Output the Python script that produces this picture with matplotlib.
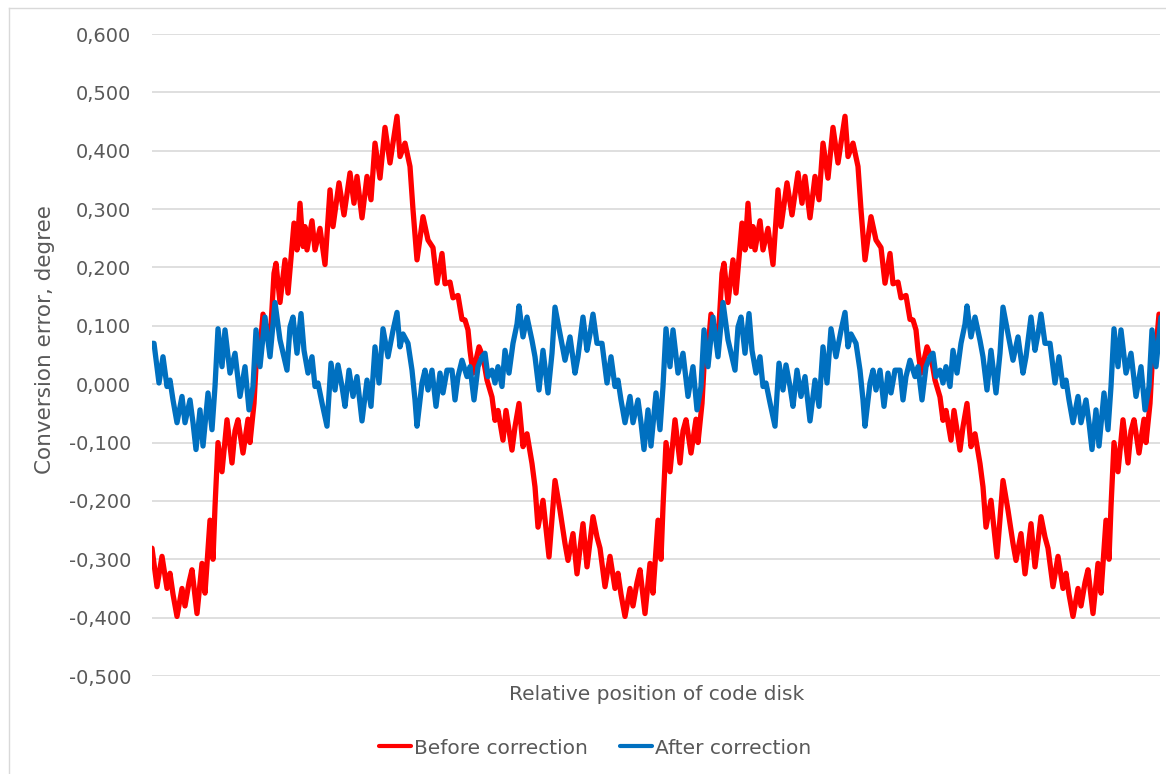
import matplotlib
matplotlib.use("Agg")
import matplotlib.pyplot as plt
from matplotlib.lines import Line2D
from matplotlib.ticker import FuncFormatter

# ---------------- data ----------------
# x = relative position of code disk (arbitrary units, 0..1008)
red_pos = [
    0, 5, 10, 15, 18, 21, 25, 30, 33, 37, 40, 45, 50, 53, 58, 61, 63, 66, 70, 75,
    80, 83, 86, 91, 96, 98, 102, 104, 108, 111, 116, 119, 122, 124, 128, 133, 136, 142, 145, 148,
    151, 153, 155, 160, 163, 168, 173, 178, 181, 187, 192, 198, 202, 205, 210, 215, 219, 223, 228, 233,
    238, 245, 248, 253, 258, 261, 265, 268, 271, 276, 281, 285, 290, 293, 298, 301, 306, 310, 313, 316,
    318, 321, 327, 331, 335, 340, 343, 346, 351, 354, 360, 363, 367, 371, 375, 380, 383, 386, 391, 397,
    403, 408, 413, 416, 421, 425, 431, 435, 441, 445,
    448, 453, 458, 463, 466, 469, 473, 478, 481, 485, 488, 493, 498, 501, 506, 509, 511, 514, 518, 523,
    528, 531, 534, 539, 544, 546, 550, 552, 556, 559, 564, 567, 570, 572, 576, 581, 584, 590, 593, 596,
    599, 601, 603, 608, 611, 616, 621, 626, 629, 635, 640, 646, 650, 653, 658, 663, 667, 671, 676, 681,
    686, 693, 696, 701, 706, 709, 713, 716, 719, 724, 729, 733, 738, 741, 746, 749, 754, 758, 761, 764,
    766, 769, 775, 779, 783, 788, 791, 794, 799, 802, 808, 811, 815, 819, 823, 828, 831, 834, 839, 845,
    851, 856, 861, 864, 869, 873, 879, 883, 889, 893,
    896, 901, 906, 911, 914, 917, 921, 926, 929, 933, 936, 941, 946, 949, 954, 957, 959, 962, 966, 971,
    976, 979, 982, 987, 992, 994, 998, 1000, 1004, 1007,
]
red_val = [
    -0.281, -0.347, -0.295, -0.350, -0.324, -0.360, -0.398, -0.350, -0.380, -0.340,
    -0.318, -0.393, -0.307, -0.358, -0.233, -0.300, -0.210, -0.100, -0.150, -0.061,
    -0.135, -0.080, -0.061, -0.118, -0.060, -0.100, -0.033, 0.030, 0.060, 0.120,
    0.087, 0.100, 0.190, 0.207, 0.140, 0.213, 0.156, 0.276, 0.230, 0.310,
    0.236, 0.270, 0.230, 0.280, 0.230, 0.267, 0.205, 0.333, 0.270, 0.345,
    0.290, 0.362, 0.310, 0.356, 0.285, 0.356, 0.316, 0.413, 0.353, 0.440,
    0.379, 0.459, 0.390, 0.413, 0.373, 0.299, 0.213, 0.250, 0.287, 0.247,
    0.234, 0.173, 0.224, 0.172, 0.175, 0.148, 0.152, 0.111, 0.110, 0.093,
    0.058, 0.019, 0.064, 0.047, 0.007, -0.022, -0.062, -0.045, -0.096, -0.045,
    -0.113, -0.073, -0.033, -0.107, -0.085, -0.136, -0.176, -0.245, -0.199, -0.296,
    -0.165, -0.216, -0.273, -0.302, -0.256, -0.325, -0.239, -0.313, -0.227, -0.262,
    -0.281, -0.347, -0.295, -0.350, -0.324, -0.360, -0.398, -0.350, -0.380, -0.340,
    -0.318, -0.393, -0.307, -0.358, -0.233, -0.300, -0.210, -0.100, -0.150, -0.061,
    -0.135, -0.080, -0.061, -0.118, -0.060, -0.100, -0.033, 0.030, 0.060, 0.120,
    0.087, 0.100, 0.190, 0.207, 0.140, 0.213, 0.156, 0.276, 0.230, 0.310,
    0.236, 0.270, 0.230, 0.280, 0.230, 0.267, 0.205, 0.333, 0.270, 0.345,
    0.290, 0.362, 0.310, 0.356, 0.285, 0.356, 0.316, 0.413, 0.353, 0.440,
    0.379, 0.459, 0.390, 0.413, 0.373, 0.299, 0.213, 0.250, 0.287, 0.247,
    0.234, 0.173, 0.224, 0.172, 0.175, 0.148, 0.152, 0.111, 0.110, 0.093,
    0.058, 0.019, 0.064, 0.047, 0.007, -0.022, -0.062, -0.045, -0.096, -0.045,
    -0.113, -0.073, -0.033, -0.107, -0.085, -0.136, -0.176, -0.245, -0.199, -0.296,
    -0.165, -0.216, -0.273, -0.302, -0.256, -0.325, -0.239, -0.313, -0.227, -0.262,
    -0.281, -0.347, -0.295, -0.350, -0.324, -0.360, -0.398, -0.350, -0.380, -0.340,
    -0.318, -0.393, -0.307, -0.358, -0.233, -0.300, -0.210, -0.100, -0.150, -0.061,
    -0.135, -0.080, -0.061, -0.118, -0.060, -0.100, -0.033, 0.030, 0.060, 0.120,
]

blue_pos = [
    0, 2, 5, 7, 11, 15, 18, 21, 25, 30, 33, 38, 41, 44, 48, 51, 56, 60, 63, 66,
    70, 73, 78, 83, 88, 93, 97, 101, 104, 108, 113, 118, 123, 128, 135, 138, 141, 145, 149, 152,
    156, 160, 163, 166, 170, 175, 179, 183, 186, 190, 193, 197, 201, 205, 210, 215, 219, 223, 227, 231,
    236, 241, 245, 248, 251, 256, 260, 263, 265, 270, 273, 276, 280, 284, 288, 291, 295, 300, 303, 306,
    310, 315, 318, 322, 326, 330, 333, 336, 340, 343, 346, 350, 353, 357, 361, 365, 367, 371, 375, 380,
    383, 387, 391, 396, 400, 403, 408, 413, 418, 423, 426, 431, 435, 438, 441, 445,
    448, 450, 453, 455, 459, 463, 466, 469, 473, 478, 481, 486, 489, 492, 496, 499, 504, 508, 511, 514,
    518, 521, 526, 531, 536, 541, 545, 549, 552, 556, 561, 566, 571, 576, 583, 586, 589, 593, 597, 600,
    604, 608, 611, 614, 618, 623, 627, 631, 634, 638, 641, 645, 649, 653, 658, 663, 667, 671, 675, 679,
    684, 689, 693, 696, 699, 704, 708, 711, 713, 718, 721, 724, 728, 732, 736, 739, 743, 748, 751, 754,
    758, 763, 766, 770, 774, 778, 781, 784, 788, 791, 794, 798, 801, 805, 809, 813, 815, 819, 823, 828,
    831, 835, 839, 844, 848, 851, 856, 861, 866, 871, 874, 879, 883, 886, 889, 893,
    896, 898, 901, 903, 907, 911, 914, 917, 921, 926, 929, 934, 937, 940, 944, 947, 952, 956, 959, 962,
    966, 969, 974, 979, 984, 989, 993, 997, 1000, 1004, 1009,
]
blue_val = [
    0.070, 0.070, 0.030, 0.002, 0.047, -0.004, 0.007, -0.027, -0.066, -0.021,
    -0.066, -0.027, -0.066, -0.112, -0.044, -0.106, -0.015, -0.078, -0.004, 0.095,
    0.030, 0.093, 0.019, 0.053, -0.021, 0.030, -0.044, -0.004, 0.093, 0.030,
    0.115, 0.047, 0.140, 0.076, 0.024, 0.098, 0.115, 0.053, 0.121, 0.058,
    0.019, 0.047, -0.004, 0.002, -0.032, -0.072, 0.036, -0.010, 0.033, -0.004,
    -0.038, 0.024, -0.021, 0.013, -0.063, 0.007, -0.038, 0.064, 0.002, 0.095,
    0.047, 0.092, 0.123, 0.064, 0.086, 0.070, 0.024, -0.027, -0.072, 0.002,
    0.024, -0.010, 0.024, -0.038, 0.019, -0.015, 0.024, 0.024, -0.027, 0.013,
    0.041, 0.013, 0.030, -0.027, 0.030, 0.047, 0.053, 0.013, 0.024, 0.002,
    0.030, -0.004, 0.058, 0.019, 0.070, 0.103, 0.134, 0.081, 0.115, 0.075,
    0.047, -0.010, 0.058, -0.015, 0.053, 0.132, 0.086, 0.041, 0.081, 0.019,
    0.047, 0.115, 0.058, 0.086, 0.120, 0.070,
    0.070, 0.070, 0.030, 0.002, 0.047, -0.004, 0.007, -0.027, -0.066, -0.021,
    -0.066, -0.027, -0.066, -0.112, -0.044, -0.106, -0.015, -0.078, -0.004, 0.095,
    0.030, 0.093, 0.019, 0.053, -0.021, 0.030, -0.044, -0.004, 0.093, 0.030,
    0.115, 0.047, 0.140, 0.076, 0.024, 0.098, 0.115, 0.053, 0.121, 0.058,
    0.019, 0.047, -0.004, 0.002, -0.032, -0.072, 0.036, -0.010, 0.033, -0.004,
    -0.038, 0.024, -0.021, 0.013, -0.063, 0.007, -0.038, 0.064, 0.002, 0.095,
    0.047, 0.092, 0.123, 0.064, 0.086, 0.070, 0.024, -0.027, -0.072, 0.002,
    0.024, -0.010, 0.024, -0.038, 0.019, -0.015, 0.024, 0.024, -0.027, 0.013,
    0.041, 0.013, 0.030, -0.027, 0.030, 0.047, 0.053, 0.013, 0.024, 0.002,
    0.030, -0.004, 0.058, 0.019, 0.070, 0.103, 0.134, 0.081, 0.115, 0.075,
    0.047, -0.010, 0.058, -0.015, 0.053, 0.132, 0.086, 0.041, 0.081, 0.019,
    0.047, 0.115, 0.058, 0.086, 0.120, 0.070,
    0.070, 0.070, 0.030, 0.002, 0.047, -0.004, 0.007, -0.027, -0.066, -0.021,
    -0.066, -0.027, -0.066, -0.112, -0.044, -0.106, -0.015, -0.078, -0.004, 0.095,
    0.030, 0.093, 0.019, 0.053, -0.021, 0.030, -0.044, -0.004, 0.093, 0.030,
    0.115,
]

series_names = ["Before correction", "After correction"]
y_ticks = [0.6, 0.5, 0.4, 0.3, 0.2, 0.1, 0.0, -0.1, -0.2, -0.3, -0.4, -0.5]
y_title = "Conversion error, degree"
x_title = "Relative position of code disk"

# ---------------- figure ----------------
W, H = 1166, 774
fig = plt.figure(figsize=(W / 100, H / 100), dpi=100)
FONT = "DejaVu Sans"
TXT = "#595959"
GRID = "#d9d9d9"

ax = fig.add_axes([152 / W, 1 - 676 / H, (1160 - 152) / W, (676 - 34) / H])
ax.plot(red_pos, red_val, color="#ff0000", lw=3.8, solid_joinstyle="round",
        solid_capstyle="round", label=series_names[0], zorder=3)
ax.plot(blue_pos, blue_val, color="#0070c0", lw=3.8, solid_joinstyle="round",
        solid_capstyle="round", label=series_names[1], zorder=4)

ax.set_xlim(0, 1008)
ax.set_ylim(-0.5, 0.6)
ax.set_yticks(y_ticks)
ax.yaxis.set_major_formatter(FuncFormatter(
    lambda v, p: ("-" if v < -1e-9 else "") + f"{abs(v):.3f}".replace(".", ",")))
ax.set_xticks([])
ax.tick_params(axis="y", length=0, pad=15, labelsize=14, labelcolor=TXT)
for lab in ax.get_yticklabels():
    lab.set_fontfamily(FONT)
ax.grid(axis="y", color=GRID, lw=1.2)
ax.set_axisbelow(True)
for s in ax.spines.values():
    s.set_visible(False)

fig.text(45 / W, 1 - 340 / H, y_title, rotation=90, ha="center", va="center",
         fontsize=15.5, color=TXT, family=FONT)
fig.text(657 / W, 1 - 695 / H, x_title, ha="center", va="center",
         fontsize=14.5, color=TXT, family=FONT)

leg = fig.legend(loc="center", bbox_to_anchor=(595 / W, 1 - 748 / H), ncol=2,
                 frameon=False, handlelength=1.6, handletextpad=0.12,
                 columnspacing=1.6, prop={"family": FONT, "size": 14.5})
for t in leg.get_texts():
    t.set_color(TXT)
for h in leg.legend_handles:
    h.set_linewidth(3.0)

# chart-area border
fig.add_artist(Line2D([8.5 / W, 8.5 / W], [0, 1 - 8 / H], transform=fig.transFigure,
                      color=GRID, lw=1.0))
fig.add_artist(Line2D([8.5 / W, 1], [1 - 8 / H, 1 - 8 / H], transform=fig.transFigure,
                      color=GRID, lw=1.0))

fig.savefig("out.png", dpi=100, facecolor="white")
